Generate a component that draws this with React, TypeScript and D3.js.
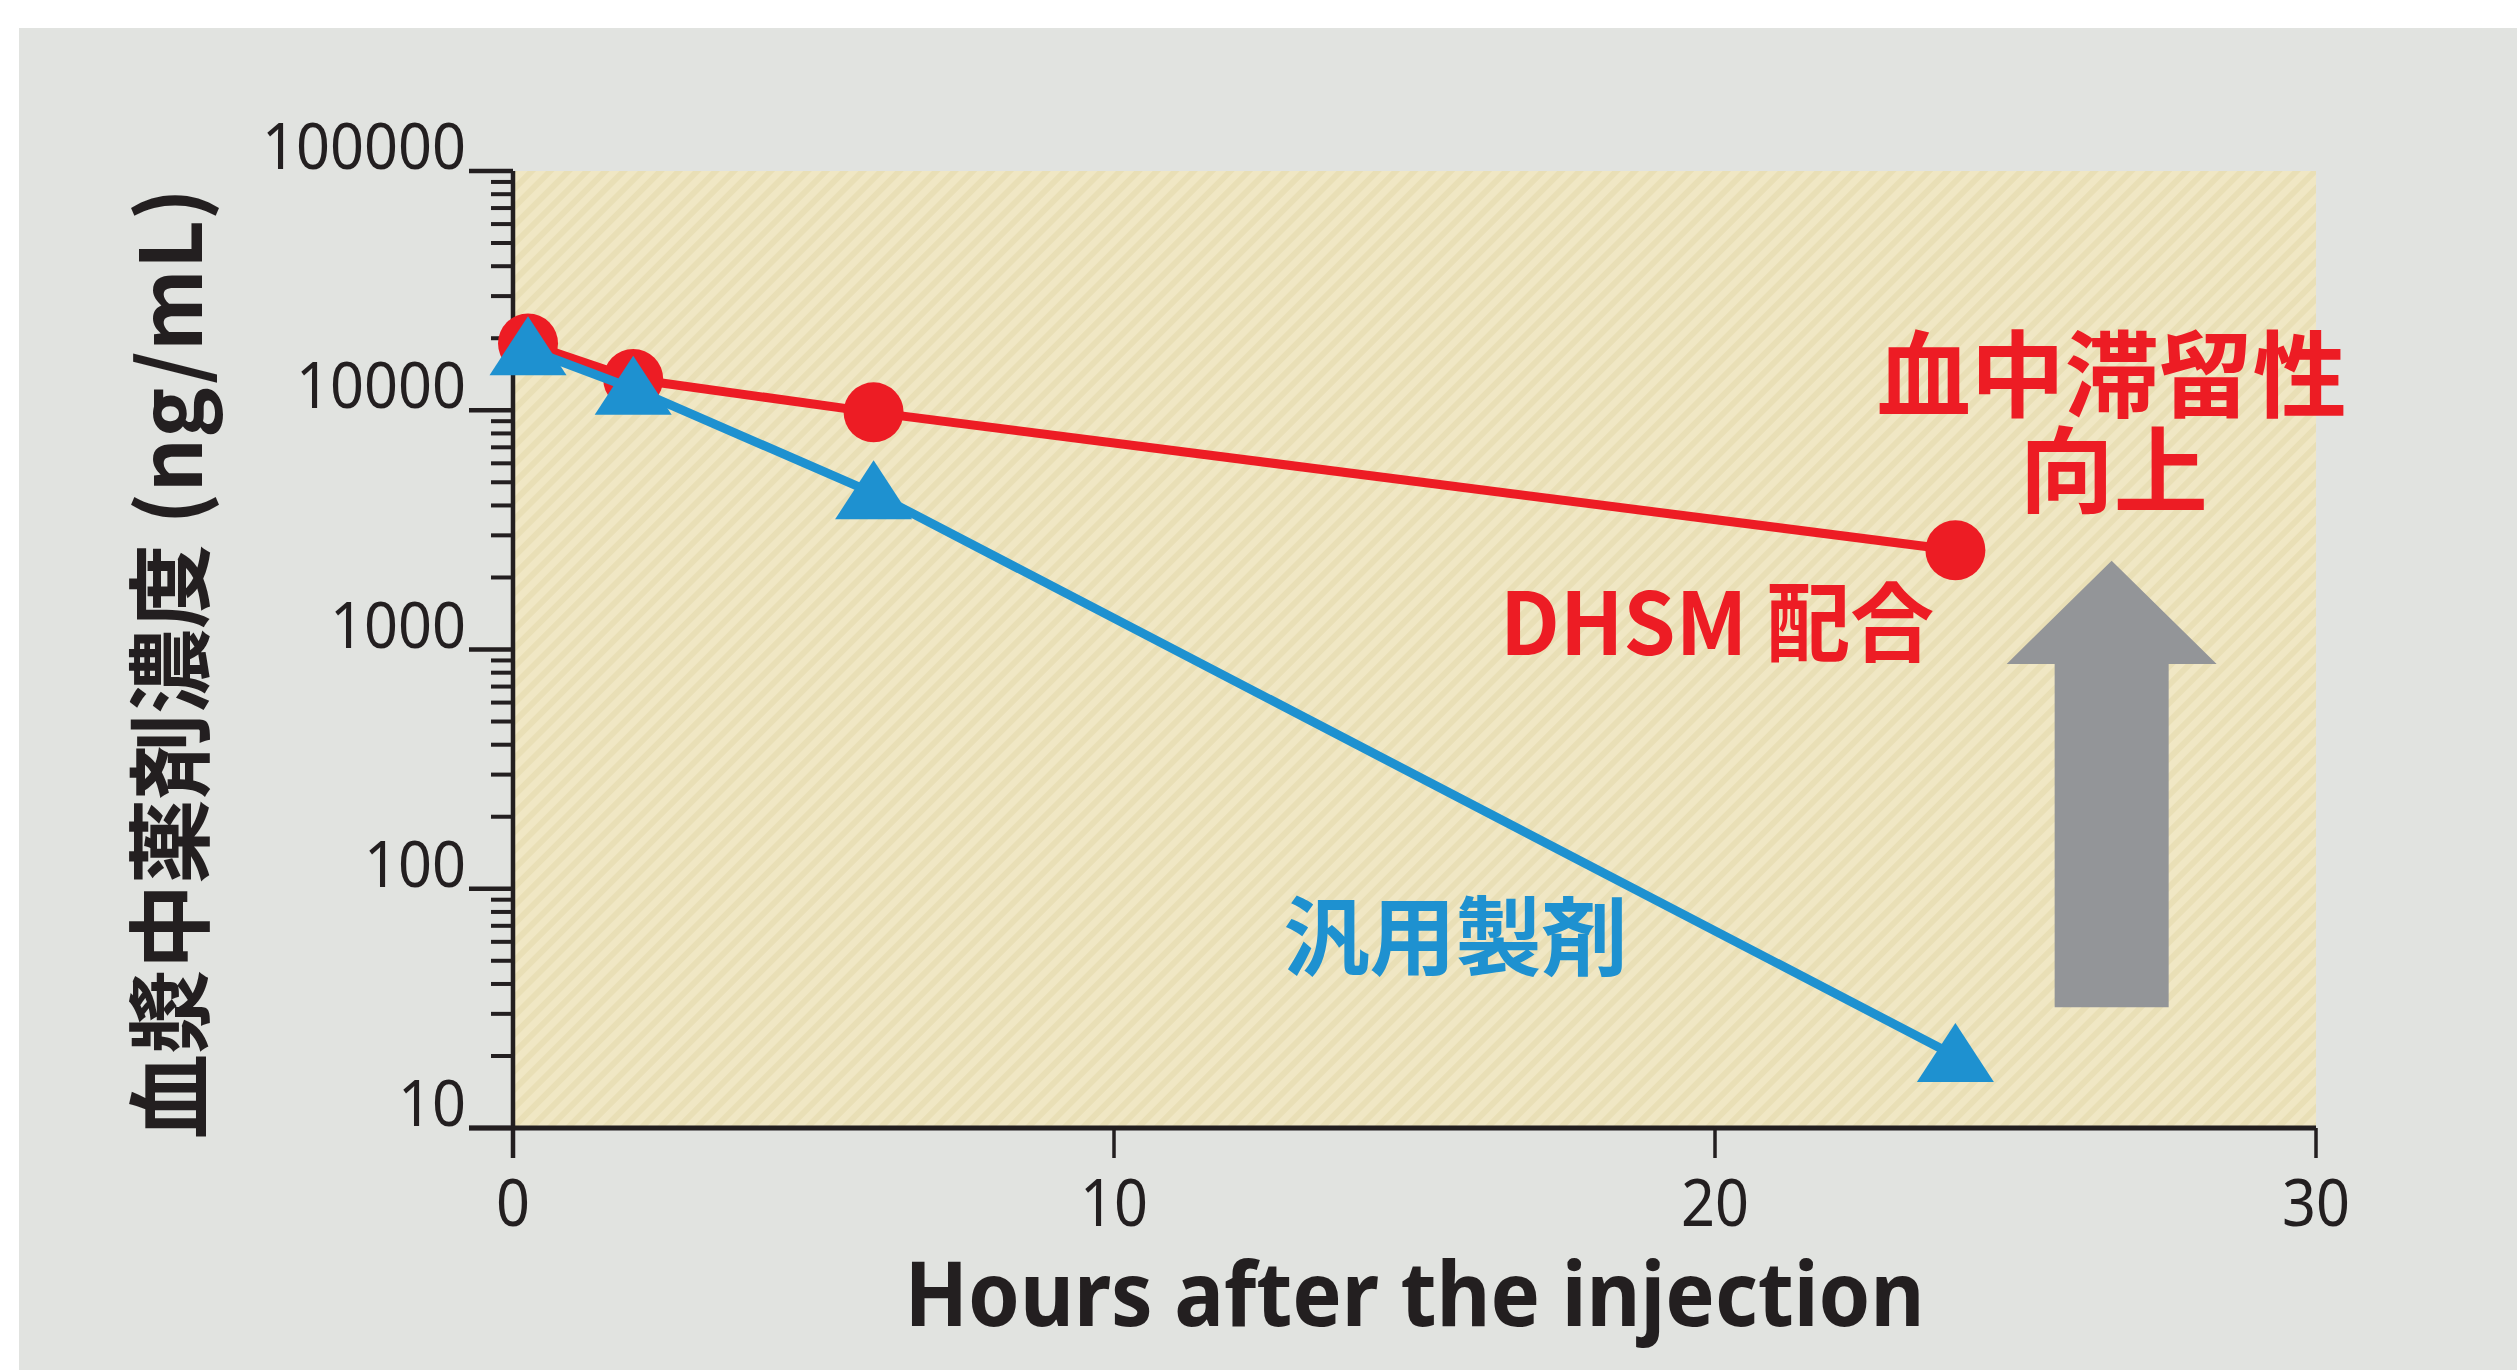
import React from 'react';
import * as d3 from 'd3';

// data
const hours = [0.25, 2, 6, 24];
const dhsmConc = [19000, 13500, 9800, 2600];
const genericConc = [18000, 12300, 4500, 20];
const xTickValues = [0, 10, 20, 30];
const yTickValues = [10, 100, 1000, 10000, 100000];

const W = 2517;
const H = 1370;
const ink = '#231F20';
const red = '#ED1C24';
const blue = '#1E91D0';

const x = d3.scaleLinear().domain([0, 30]).range([513, 2316]);
const y = d3.scaleLog().domain([10, 100000]).range([1128, 171]);

const minorTicks = y.ticks().filter(v => !yTickValues.includes(v));

const line = d3.line<number>()
  .x((d, i) => x(hours[i]))
  .y(d => y(d));

// triangle marker, slightly taller above the point than below
const tri = (cx: number, cy: number) =>
  `M${cx},${cy - 33}L${cx + 38.5},${cy + 26}L${cx - 38.5},${cy + 26}Z`;

const App = () => {
  const [x0, x1] = x.range();
  const [yb, yt] = y.range();

  // arrow annotation, placed in chart units
  const ax = x(26.6);
  const tipY = y(2350);
  const headY = y(870);
  const bottomY = y(32);
  const arrow = [
    [ax, tipY], [ax + 105, headY], [ax + 57, headY], [ax + 57, bottomY],
    [ax - 57, bottomY], [ax - 57, headY], [ax - 105, headY],
  ];

  return (
    <svg width={W} height={H} style={{ position: 'absolute', left: 0, top: 0, display: 'block' }}>
      <defs>
        <pattern id="stripes" width="13" height="13" patternUnits="userSpaceOnUse" patternTransform="rotate(45)">
          <rect width="13" height="13" fill="#F0E7C4" />
          <rect width="6" height="13" fill="#E9DFB6" />
        </pattern>
      </defs>
      <rect width={W} height={H} fill="#ffffff" />
      <rect x={19} y={28} width={W - 19} height={H - 28} fill="#E1E3E0" />
      <rect x={x0} y={yt} width={x1 - x0} height={yb - yt} fill="url(#stripes)" />

      {/* y axis */}
      <line x1={x0} x2={x0} y1={yt} y2={yb + 30} stroke={ink} strokeWidth={4.5} />
      {yTickValues.map(v => (
        <g key={v}>
          <line x1={x0 - 44} x2={x0} y1={y(v)} y2={y(v)} stroke={ink} strokeWidth={4.5} />
          <text x={x0 - 47} y={y(v) - 2} textAnchor="end" fontFamily="'Noto Sans', sans-serif"
            fontSize={64} fill={ink} textLength={String(v).length * 34} lengthAdjust="spacingAndGlyphs">
            {v}
          </text>
        </g>
      ))}
      {minorTicks.map(v => (
        <line key={v} x1={x0 - 22} x2={x0} y1={y(v)} y2={y(v)} stroke={ink} strokeWidth={4} />
      ))}

      {/* x axis */}
      <line x1={x0 - 44} x2={x1} y1={yb} y2={yb} stroke={ink} strokeWidth={5} />
      {xTickValues.map(v => (
        <g key={v}>
          <line x1={x(v)} x2={x(v)} y1={yb} y2={yb + 30} stroke={ink} strokeWidth={3.5} />
          <text x={x(v)} y={1226} textAnchor="middle" fontFamily="'Noto Sans', sans-serif"
            fontSize={65} fill={ink} textLength={String(v).length * 34} lengthAdjust="spacingAndGlyphs">
            {v}
          </text>
        </g>
      ))}
      <text x={(x0 + x1) / 2} y={1326} textAnchor="middle" fontFamily="'Noto Sans', sans-serif"
        fontWeight="bold" fontSize={90} fill={ink} textLength={1020} lengthAdjust="spacingAndGlyphs">
        Hours after the injection
      </text>

      <text transform={`translate(202,663.5) rotate(-90)`} textAnchor="middle"
        fontFamily="'Noto Sans CJK JP', sans-serif" fontWeight="bold" fontSize={85} fill={ink}>
        血漿中薬剤濃度 (ng/mL)
      </text>

      {/* arrow */}
      <polygon points={arrow.map(p => p.join(',')).join(' ')} fill="#939598" />

      {/* DHSM series */}
      <path d={line(dhsmConc) || ''} fill="none" stroke={red} strokeWidth={9} />
      {dhsmConc.map((v, i) => (
        <circle key={i} cx={x(hours[i])} cy={y(v)} r={30} fill={red} />
      ))}

      {/* generic series */}
      <path d={line(genericConc) || ''} fill="none" stroke={blue} strokeWidth={9} />
      {genericConc.map((v, i) => (
        <path key={i} d={tri(x(hours[i]), y(v))} fill={blue} />
      ))}

      {/* labels */}
      <text x={1500} y={655} fontFamily="'Noto Sans CJK JP', sans-serif" fontWeight="bold"
        fontSize={86} fill={red} textLength={434} lengthAdjust="spacingAndGlyphs">
        DHSM 配合
      </text>
      <text x={1455.5} y={969} textAnchor="middle" fontFamily="'Noto Sans CJK JP', sans-serif"
        fontWeight="bold" fontSize={86} fill={blue}>
        汎用製剤
      </text>
      <text x={ax} y={410} textAnchor="middle" fontFamily="'Noto Sans CJK JP', sans-serif"
        fontWeight="bold" fontSize={94} fill={red}>
        血中滞留性
      </text>
      <text x={ax + 2} y={506} textAnchor="middle" fontFamily="'Noto Sans CJK JP', sans-serif"
        fontWeight="bold" fontSize={94} fill={red}>
        向上
      </text>
    </svg>
  );
};

export default App;
